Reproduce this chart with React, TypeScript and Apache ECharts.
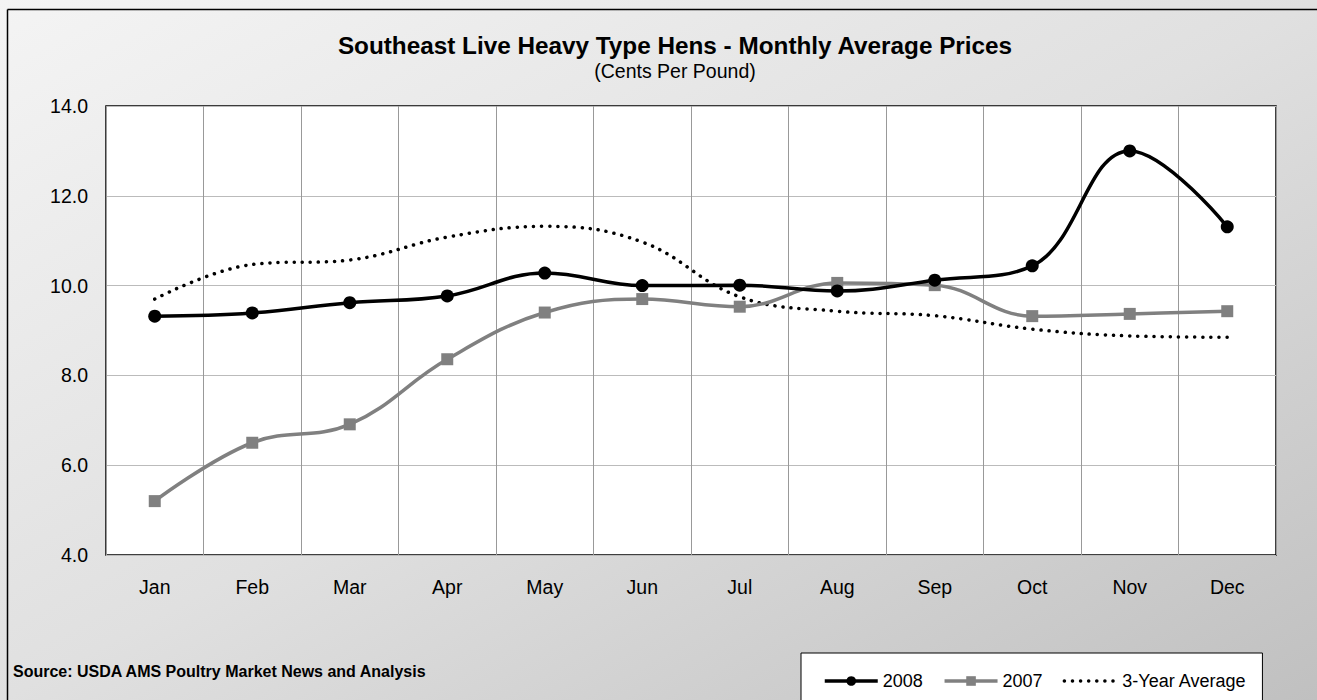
import React, { useEffect, useRef } from "react";
import * as echarts from "echarts";

const months = ["Jan", "Feb", "Mar", "Apr", "May", "Jun", "Jul", "Aug", "Sep", "Oct", "Nov", "Dec"];
const y2008 = [9.32, 9.39, 9.62, 9.77, 10.28, 10.0, 10.01, 9.88, 10.12, 10.44, 13.0, 11.31];
const y2007 = [5.2, 6.5, 6.91, 8.36, 9.4, 9.7, 9.53, 10.06, 10.01, 9.32, 9.37, 9.43];
const avg3 = [9.7, 10.47, 10.57, 11.08, 11.32, 10.97, 9.75, 9.43, 9.33, 9.03, 8.88, 8.85];

const TITLE = "Southeast Live Heavy Type Hens - Monthly Average Prices";
const SUBTITLE = "(Cents Per Pound)";
const SOURCE = "Source: USDA AMS Poultry Market News and Analysis";

const FONT = "'Liberation Sans', Arial, sans-serif";

export default function App() {
  const ref = useRef<HTMLDivElement>(null);
  useEffect(() => {
    if (!ref.current) return;
    const chart = echarts.init(ref.current, null, { renderer: "svg" });
    chart.setOption({
      animation: false,
      backgroundColor: new echarts.graphic.LinearGradient(0, 0, 1, 1, [
        { offset: 0, color: "#f4f4f4" },
        { offset: 0.5, color: "#e0e0e0" },
        { offset: 1, color: "#c0c0c0" },
      ]),
      graphic: [
        {
          type: "line",
          shape: { x1: 7.5, y1: 9.5, x2: 1400, y2: 9.5 },
          style: { stroke: "#000", lineWidth: 1.5 },
          silent: true,
        },
        {
          type: "line",
          shape: { x1: 7.5, y1: 9.5, x2: 7.5, y2: 800 },
          style: { stroke: "#000", lineWidth: 1.5 },
          silent: true,
        },
        {
          type: "text",
          x: 675,
          y: 45,
          style: {
            text: TITLE,
            fontFamily: FONT,
            fontSize: 24.3,
            fontWeight: "bold",
            fill: "#000",
            textAlign: "center",
            verticalAlign: "middle",
          },
        },
        {
          type: "text",
          x: 675,
          y: 71,
          style: {
            text: SUBTITLE,
            fontFamily: FONT,
            fontSize: 19.5,
            fill: "#000",
            textAlign: "center",
            verticalAlign: "middle",
          },
        },
        {
          type: "text",
          x: 13,
          y: 671,
          style: {
            text: SOURCE,
            fontFamily: FONT,
            fontSize: 16,
            fontWeight: "bold",
            fill: "#000",
            verticalAlign: "middle",
          },
        },
      ],
      legend: {
        left: 801,
        top: 653,
        backgroundColor: "#fff",
        borderColor: "#000",
        borderWidth: 1,
        padding: [19, 16, 30, 22],
        itemWidth: 53,
        itemHeight: 12,
        itemGap: 20,
        textStyle: { fontFamily: FONT, fontSize: 18, color: "#000" },
        data: [
          { name: "2008", lineStyle: { width: 3.5 } },
          { name: "2007", lineStyle: { width: 3.5 } },
          { name: "3-Year Average", itemStyle: { opacity: 0 }, lineStyle: { width: 3.5 } },
        ],
      },
      grid: {
        left: 106,
        top: 106,
        right: 41,
        bottom: 145,
        show: true,
        backgroundColor: "#fff",
        borderColor: "#000",
        borderWidth: 1.5,
      },
      xAxis: {
        type: "category",
        data: months,
        boundaryGap: true,
        axisLine: { show: false },
        axisTick: { show: false },
        axisLabel: { fontFamily: FONT, fontSize: 19.5, color: "#000", margin: 22 },
        splitLine: { show: true, lineStyle: { color: "#999", width: 1 } },
      },
      yAxis: {
        type: "value",
        min: 4,
        max: 14,
        interval: 2,
        axisLine: { show: false },
        axisTick: { show: false },
        axisLabel: {
          fontFamily: FONT,
          fontSize: 19.5,
          color: "#000",
          margin: 18,
          formatter: (v: number) => v.toFixed(1),
        },
        splitLine: { show: true, lineStyle: { color: "#bbb", width: 1 } },
      },
      series: [
        {
          name: "2008",
          type: "line",
          data: y2008,
          smooth: 0.4,
          symbol: "circle",
          symbolSize: 13,
          color: "#000",
          lineStyle: { color: "#000", width: 3.5 },
          itemStyle: { color: "#000" },
          z: 4,
        },
        {
          name: "2007",
          type: "line",
          data: y2007,
          smooth: 0.4,
          symbol: "rect",
          symbolSize: 12,
          color: "#808080",
          lineStyle: { color: "#808080", width: 3.5 },
          itemStyle: { color: "#808080" },
          z: 3,
        },
        {
          name: "3-Year Average",
          type: "line",
          data: avg3,
          smooth: 0.4,
          symbol: "none",
          color: "#000",
          lineStyle: { color: "#000", width: 3.5, type: [0.1, 8], cap: "round" },
          z: 2,
        },
      ],
    });
    return () => chart.dispose();
  }, []);
  return (
    <div
      ref={ref}
      style={{ position: "fixed", left: 0, top: 0, width: 1317, height: 700 }}
    />
  );
}
